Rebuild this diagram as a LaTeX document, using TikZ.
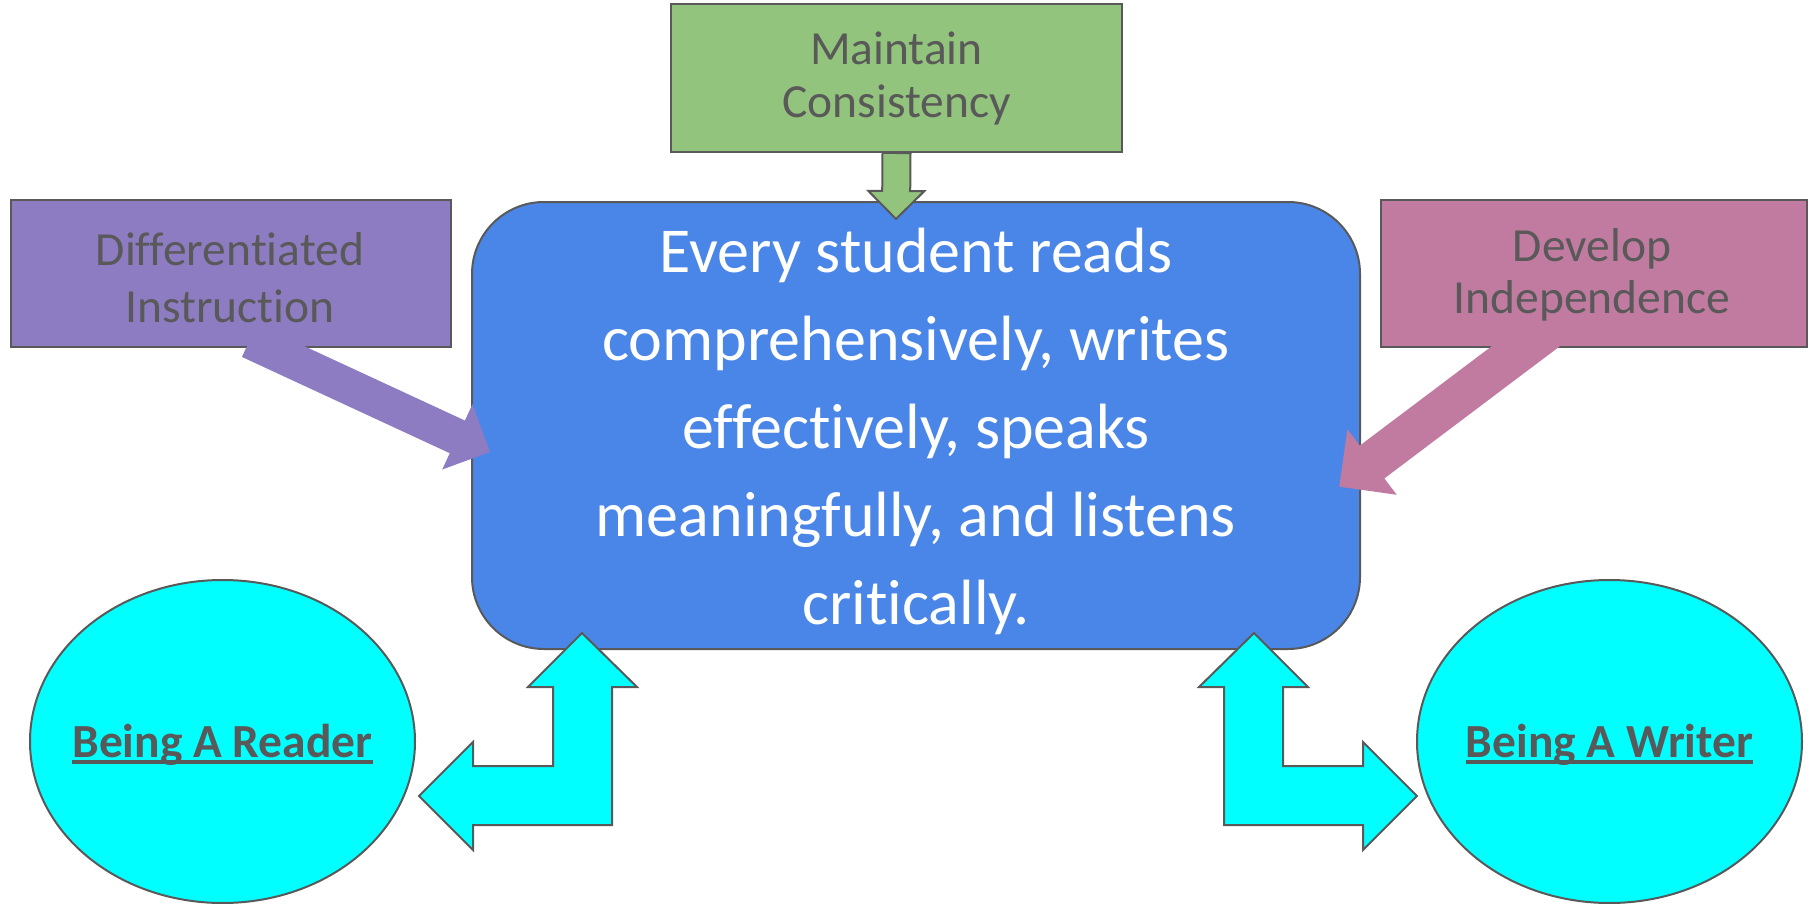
\documentclass[tikz,border=0pt]{standalone}
\usepackage{fontspec}
\setmainfont{Carlito}[Ligatures={NoCommon}]
\usetikzlibrary{calc,shapes.geometric}
\definecolor{cBlue}{HTML}{4A86E8}
\definecolor{cPurple}{HTML}{8E7CC3}
\definecolor{cPink}{HTML}{C27BA0}
\definecolor{cGreen}{HTML}{93C47D}
\definecolor{cCyan}{HTML}{00FFFF}
\definecolor{cLine}{HTML}{595959}
\definecolor{cText}{HTML}{595959}
% block arrow: #1 style, #2 tail, #3 tip, #4 shaft width
\newcommand\blockarr[4]{%
  \coordinate (bah) at ($(#3)!#4!(#2)$);
  \path[#1] ($(#2)!0.5*#4!90:(#3)$) -- ($(bah)!0.5*#4!90:(#3)$) -- ($(bah)!#4!90:(#3)$) -- (#3)
     -- ($(bah)!#4!-90:(#3)$) -- ($(bah)!0.5*#4!-90:(#3)$) -- ($(#2)!0.5*#4!-90:(#3)$) -- cycle;
}
\newcommand\myul[1]{\setbox0=\hbox{#1}\rlap{\rule[-3.5pt]{\wd0}{2.2pt}}\box0}
\begin{document}
\begin{tikzpicture}[x=0.5pt,y=-0.5pt,
  outl/.style={draw=cLine,line width=1pt},
  sbox/.style={outl,rectangle,inner sep=0pt},
  lbl/.style={text=cText,align=center,anchor=base,inner sep=0pt},
  bubble/.style={outl,ellipse,fill=cCyan,inner sep=0pt,minimum width=192.5pt,minimum height=161.5pt},
  bubtext/.style={text=cText,anchor=base,inner sep=0pt,font=\fontsize{23.75pt}{28pt}\selectfont\bfseries},
  cyanarr/.style={outl,fill=cCyan,line join=miter}]
\useasboundingbox (0,0) rectangle (1816,904);

% boxes
\node[sbox,fill=cGreen,minimum width=225.5pt,minimum height=74pt] (greenBox) at (896.5,78) {};
\node[sbox,fill=cPurple,minimum width=220pt,minimum height=73.5pt] (purpleBox) at (231,273.5) {};
\node[sbox,fill=cPink,minimum width=213pt,minimum height=73.5pt] (pinkBox) at (1594,273.5) {};
\node[outl,rectangle,rounded corners=36pt,fill=cBlue,minimum width=444pt,minimum height=223.5pt,inner sep=0pt] (mainBox) at (916,425.5) {};
\node[bubble] (reader) at (222.5,741.5) {};
\node[bubble] (writer) at (1609.5,741.5) {};

% block arrows
\coordinate (gTail) at (greenBox.south);
\coordinate (gTip) at (896,219);
\blockarr{outl,fill=cGreen,line join=miter}{gTail}{gTip}{14pt}
\coordinate (pTail) at (249.5,340.6);
\coordinate (pTip) at (490,452);
\blockarr{fill=cPurple}{pTail}{pTip}{18pt}
\coordinate (kTail) at (1562.7,318.4);
\coordinate (kTip) at (1339.3,486.7);
\blockarr{fill=cPink}{kTail}{kTip}{20.5pt}

% bent double arrows
\draw[cyanarr] (582,633) -- (637,687) -- (612,687) -- (612,825) -- (473,825) -- (473,850) -- (419,796)
  -- (473,742) -- (473,766) -- (553,766) -- (553,687) -- (528,687) -- cycle;
\draw[cyanarr] (1254,633) -- (1308,687) -- (1283,687) -- (1283,766) -- (1363,766) -- (1363,742) -- (1417,796)
  -- (1363,850) -- (1363,825) -- (1224,825) -- (1224,687) -- (1199,687) -- cycle;

% texts (anchor = baseline of last line)
\node[lbl,font=\fontsize{23.75pt}{26.5pt}\selectfont] (greenText) at (896.5,118) {Maintain\\Consistency};
\node[lbl,font=\fontsize{23.75pt}{28.5pt}\selectfont] (purpleText) at (230,322) {Differentiated\\Instruction};
\node[lbl,font=\fontsize{23.75pt}{26pt}\selectfont] (pinkText) at (1592,313) {Develop\\Independence};
\node[lbl,text=white,font=\fontsize{32pt}{44pt}\selectfont] (mainText) at (916,624)
  {Every student reads\\comprehensively, writes\\effectively, speaks\\meaningfully, and listens\\critically.};
\node[bubtext] (readerText) at (222.5,757) {\myul{Being A Reader}};
\node[bubtext] (writerText) at (1609.5,757) {\myul{Being A Writer}};
\end{tikzpicture}
\end{document}
